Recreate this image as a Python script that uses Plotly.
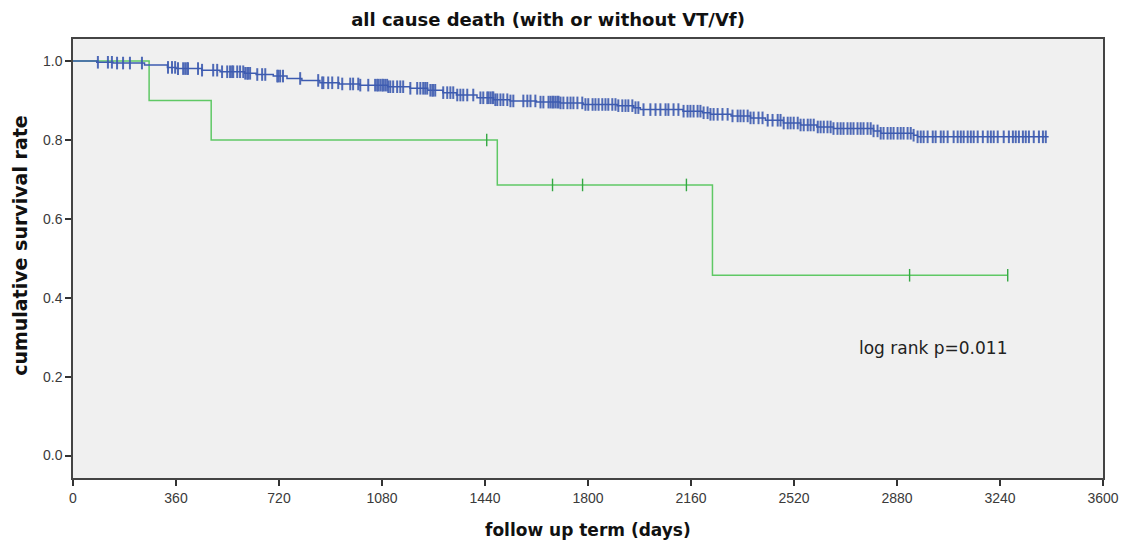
import numpy as np
import plotly.graph_objects as go

# ---- data ----
# group without VT/Vf (blue): step times (days) and survival after each step
blue_times = [0, 83, 140, 250, 330, 360, 450, 514, 600, 640, 700, 748, 800, 863, 930,
              1003, 1100, 1178, 1240, 1293, 1340, 1412, 1470, 1528, 1620, 1703, 1783,
              1902, 1960, 1983, 2132, 2200, 2228, 2300, 2368, 2420, 2483, 2543, 2600,
              2658, 2798, 2823, 2938, 2952, 3410]
blue_surv = [1.000, 0.997, 0.995, 0.990, 0.984, 0.981, 0.977, 0.973, 0.969, 0.966, 0.962,
             0.956, 0.951, 0.945, 0.942, 0.939, 0.935, 0.931, 0.926, 0.920, 0.914, 0.907,
             0.902, 0.899, 0.896, 0.894, 0.890, 0.887, 0.882, 0.877, 0.873, 0.869, 0.865,
             0.861, 0.856, 0.850, 0.843, 0.838, 0.833, 0.829, 0.823, 0.817, 0.812, 0.808,
             0.808]
blue_censor = [87, 122, 136, 154, 175, 199, 241, 332, 346, 357, 367, 385, 392, 399, 402,
               437, 451, 490, 504, 521, 539, 549, 556, 560, 574, 584, 595, 602, 609, 612,
               619, 644, 661, 672, 714, 717, 724, 734, 794, 857,
               871, 875, 892, 906, 927, 941, 969, 979, 997, 1004, 1032, 1056, 1063, 1067,
               1074, 1081, 1084, 1091, 1098, 1102, 1109, 1119, 1133, 1144, 1154, 1179,
               1203, 1214, 1224, 1231, 1238, 1249, 1256, 1259, 1266, 1294, 1308, 1319,
               1329, 1343, 1354, 1364, 1378, 1399, 1424, 1434, 1448, 1452, 1459, 1466,
               1469, 1476, 1483, 1494, 1504, 1518, 1529, 1539, 1574, 1588, 1599, 1616,
               1634, 1644, 1662, 1676, 1686, 1697,
               1669, 1679, 1693, 1704, 1714, 1728, 1739, 1749, 1763, 1780, 1791, 1801,
               1816, 1826, 1837, 1850, 1861, 1871, 1885, 1896, 1906, 1920, 1931, 1941,
               1955, 1966, 1976, 1994, 2018, 2036, 2053, 2071, 2081, 2099, 2116, 2134,
               2148, 2158, 2169, 2183, 2193, 2204, 2218, 2228, 2239, 2253, 2270, 2288,
               2305, 2323, 2333, 2344, 2358, 2368, 2379, 2396, 2410, 2428, 2445, 2463,
               2473, 2484, 2498, 2508, 2519, 2533,
               2543, 2554, 2568, 2578, 2589, 2603, 2613, 2624, 2637, 2648, 2658, 2672,
               2683, 2693, 2707, 2718, 2728, 2742, 2753, 2763, 2777, 2788, 2798, 2812,
               2823, 2833, 2847, 2858, 2868, 2882, 2893, 2903, 2917, 2928, 2938, 2952,
               2963, 2973, 2987, 3005, 3015, 3033, 3043, 3057, 3078, 3092, 3103, 3113,
               3127, 3138, 3148, 3162, 3180, 3197, 3208, 3218, 3232, 3253, 3271, 3285,
               3295, 3306, 3320, 3330, 3341, 3358, 3376, 3390, 3400]

# group with VT/Vf (green)
green_times = [0, 266, 483, 1483, 2235, 3267]
green_surv = [1.0, 0.9, 0.8, 0.686, 0.457, 0.457]
green_censor = [1446, 1676, 1781, 2144, 2924, 3267]

x_ticks = [0, 360, 720, 1080, 1440, 1800, 2160, 2520, 2880, 3240, 3600]
y_ticks = [0.0, 0.2, 0.4, 0.6, 0.8, 1.0]
y_tick_text = ["0.0", "0.2", "0.4", "0.6", "0.8", "1.0"]

title_text = "all cause death (with or without VT/Vf)"
x_title = "follow up term (days)"
y_title = "cumulative survival rate"
note_text = "log rank p=0.011"

BLUE = "#3d5bb0"
GREEN = "#5fc865"
GREEN_DARK = "#35a843"


def step_value(times, surv, t):
    idx = np.searchsorted(np.asarray(times), np.asarray(t), side="right") - 1
    return np.asarray(surv)[np.clip(idx, 0, len(surv) - 1)]


fig = go.Figure()

fig.add_trace(go.Scatter(x=green_times, y=green_surv, mode="lines",
                         line=dict(shape="hv", color=GREEN, width=1.5),
                         hoverinfo="skip", showlegend=False))
fig.add_trace(go.Scatter(x=green_censor, y=step_value(green_times, green_surv, green_censor),
                         mode="markers",
                         marker=dict(symbol="line-ns-open", size=9, color=GREEN_DARK,
                                     line=dict(color=GREEN_DARK, width=1.4)),
                         hoverinfo="skip", showlegend=False))

fig.add_trace(go.Scatter(x=blue_times, y=blue_surv, mode="lines",
                         line=dict(shape="hv", color=BLUE, width=1.5),
                         hoverinfo="skip", showlegend=False))
fig.add_trace(go.Scatter(x=blue_censor, y=step_value(blue_times, blue_surv, blue_censor),
                         mode="markers",
                         marker=dict(symbol="line-ns-open", size=9, color=BLUE,
                                     line=dict(color=BLUE, width=2.0)),
                         opacity=0.9,
                         hoverinfo="skip", showlegend=False))

fig.update_layout(
    width=1123, height=545,
    margin=dict(l=73, r=20, t=39, b=67, autoexpand=False),
    paper_bgcolor="white",
    plot_bgcolor="#f0f0f0",
    font=dict(family="Liberation Sans, Arial, sans-serif", size=14, color="#3a3a3a"),
    title=dict(text="<b>" + title_text + "</b>", x=0.488, xanchor="center",
               y=0.963, yanchor="middle",
               font=dict(family="DejaVu Sans, sans-serif", size=18, color="#111111")),
    xaxis=dict(range=[0, 3600], tickvals=x_ticks, ticktext=[str(v) for v in x_ticks],
               showgrid=False, zeroline=False, showline=True, linecolor="#444444",
               linewidth=1.5, mirror=True, ticks="outside", ticklen=6, tickwidth=1.5,
               tickcolor="#333333", fixedrange=True, automargin=False),
    yaxis=dict(range=[-0.057, 1.056], tickvals=y_ticks, ticktext=y_tick_text,
               showgrid=False, zeroline=False, showline=True, linecolor="#444444",
               linewidth=1.5, mirror=True, ticks="outside", ticklen=6, tickwidth=1.5,
               tickcolor="#333333", fixedrange=True, automargin=False),
    annotations=[
        dict(text="<b>" + x_title + "</b>", xref="paper", yref="paper", x=0.5, y=-0.118,
             xanchor="center", yanchor="middle", showarrow=False,
             font=dict(family="DejaVu Sans, sans-serif", size=17, color="#111111")),
        dict(text="<b>" + y_title + "</b>", xref="paper", yref="paper", x=-0.0515, y=0.531,
             xanchor="center", yanchor="middle", showarrow=False, textangle=-90,
             font=dict(family="DejaVu Sans, sans-serif", size=19, color="#111111")),
        dict(text=note_text, xref="x", yref="y", x=3006, y=0.272,
             xanchor="center", yanchor="middle", showarrow=False,
             font=dict(family="DejaVu Sans, sans-serif", size=17, color="#222222")),
    ],
)

fig.write_html("out.html", config={"displayModeBar": False},
               post_script="document.body.style.margin='0';document.body.style.overflow='hidden';")
